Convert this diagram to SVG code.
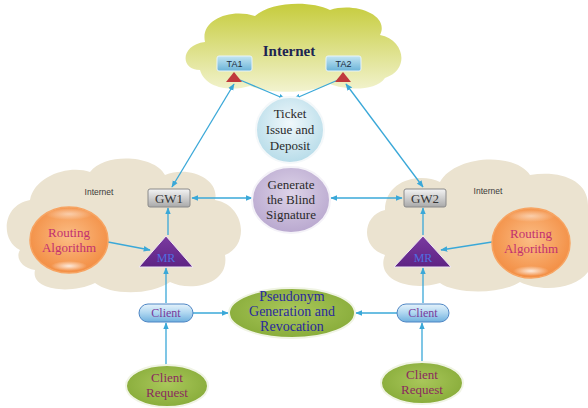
<svg xmlns="http://www.w3.org/2000/svg" width="588" height="408" viewBox="0 0 588 408">
<defs>
<style>
.serif{font-family:"Liberation Serif","Times New Roman",serif;}
.sans{font-family:"Liberation Sans",Arial,sans-serif;}
.conn line{stroke:#3aa8d8;stroke-width:1.3;fill:none;}
.beige{fill:#ebe3d0;}
</style>
<linearGradient id="gTop" x1="0" y1="0" x2="0" y2="1" gradientUnits="objectBoundingBox">
<stop offset="0" stop-color="#c6cc3c"/><stop offset="1" stop-color="#f2f3cf"/>
</linearGradient>
<radialGradient id="gTicket" cx="0.5" cy="0.4" r="0.6"><stop offset="0" stop-color="#f0f8fb"/><stop offset="1" stop-color="#b7dce9"/></radialGradient>
<radialGradient id="gGen" cx="0.5" cy="0.4" r="0.6"><stop offset="0" stop-color="#ddd3e8"/><stop offset="1" stop-color="#b9a8cf"/></radialGradient>
<radialGradient id="gOrange" cx="0.5" cy="0.45" r="0.6"><stop offset="0" stop-color="#fbbd85"/><stop offset="1" stop-color="#f28a3e"/></radialGradient>
<radialGradient id="gGreen" cx="0.5" cy="0.45" r="0.6"><stop offset="0" stop-color="#a9c75a"/><stop offset="1" stop-color="#86aa38"/></radialGradient>
<radialGradient id="gGloss" cx="0.5" cy="0.5" r="0.5"><stop offset="0" stop-color="#ffffff" stop-opacity="0.8"/><stop offset="1" stop-color="#ffffff" stop-opacity="0"/></radialGradient>
<linearGradient id="gClient" x1="0" y1="0" x2="0" y2="1"><stop offset="0" stop-color="#e6f3fb"/><stop offset="0.5" stop-color="#aed6f0"/><stop offset="1" stop-color="#6fb0de"/></linearGradient>
<linearGradient id="gGW" x1="0" y1="0" x2="0" y2="1"><stop offset="0" stop-color="#f4f4f4"/><stop offset="1" stop-color="#a9a9a9"/></linearGradient>
<linearGradient id="gTA" x1="0" y1="0" x2="0" y2="1"><stop offset="0" stop-color="#c4e6f3"/><stop offset="1" stop-color="#6bb3d8"/></linearGradient>
<linearGradient id="gMR" x1="0" y1="0" x2="0" y2="1"><stop offset="0" stop-color="#7a3aa0"/><stop offset="1" stop-color="#5e2384"/></linearGradient>
<marker id="ah" viewBox="0 0 10 10" refX="9" refY="5" markerWidth="7" markerHeight="7" orient="auto-start-reverse" markerUnits="userSpaceOnUse">
<path d="M0,1 L10,5 L0,9 z" fill="#3aa8d8"/>
</marker>
</defs>
<rect width="588" height="408" fill="#ffffff"/>

<g id="cloud-top" fill="url(#gTop)">
<path d="M200,70 C180,70 180,45 205,42 C200,20 230,8 255,16 C270,2 310,0 330,10 C355,2 390,15 380,35 C405,40 410,70 385,78 C375,92 345,90 330,84 C310,94 270,94 250,86 C230,92 205,88 200,70 z"/>
</g>
<g id="cloud-left" class="beige">
<path d="M20,250 C0,240 2,205 30,200 C35,175 70,165 90,172 C105,152 155,155 165,175 C190,165 220,180 215,200 C245,205 250,245 225,255 C230,285 190,292 170,282 C150,296 110,295 95,283 C70,295 30,290 35,270 C22,268 15,258 20,250 z"/>
</g>
<g id="cloud-right" class="beige">
<path d="M385,255 C360,248 362,215 385,210 C385,180 420,172 440,182 C455,155 515,152 530,175 C560,170 588,180 588,205 L588,272 C575,290 540,292 520,282 C500,295 455,294 440,283 C410,292 375,280 385,255 z"/>
</g>

<g class="conn">
<line x1="172" y1="187" x2="234" y2="84" marker-start="url(#ah)" marker-end="url(#ah)"/>
<line x1="346" y1="84" x2="423" y2="187" marker-start="url(#ah)" marker-end="url(#ah)"/>
<line x1="240" y1="80" x2="285" y2="99" marker-end="url(#ah)"/>
<line x1="338" y1="80" x2="294" y2="99" marker-end="url(#ah)"/>
<line x1="192" y1="198" x2="252" y2="198" marker-start="url(#ah)" marker-end="url(#ah)"/>
<line x1="331" y1="198" x2="402" y2="198" marker-start="url(#ah)" marker-end="url(#ah)"/>
<line x1="168" y1="235" x2="168" y2="208" marker-end="url(#ah)"/>
<line x1="423" y1="235" x2="423" y2="208" marker-end="url(#ah)"/>
<line x1="108" y1="242" x2="150" y2="250" marker-end="url(#ah)"/>
<line x1="492" y1="242" x2="441" y2="250" marker-end="url(#ah)"/>
<line x1="166" y1="303" x2="166" y2="268" marker-end="url(#ah)"/>
<line x1="423" y1="303" x2="423" y2="268" marker-end="url(#ah)"/>
<line x1="193" y1="313" x2="228" y2="313" marker-end="url(#ah)"/>
<line x1="397" y1="313" x2="356" y2="313" marker-end="url(#ah)"/>
<line x1="166" y1="365" x2="166" y2="323" marker-end="url(#ah)"/>
<line x1="422" y1="362" x2="422" y2="323" marker-end="url(#ah)"/>
</g>

<text class="serif" x="289" y="56" font-size="15" font-weight="bold" fill="#1c2452" text-anchor="middle">Internet</text>

<g id="ta1">
<rect x="217" y="56" width="35" height="15" rx="2" fill="url(#gTA)" stroke="#e8f4fa" stroke-width="1"/>
<text class="sans" x="234.5" y="67" font-size="9" fill="#1a2a40" text-anchor="middle">TA1</text>
<path d="M234,72 L242,82 L226,82 z" fill="#c0393c"/>
</g>
<g id="ta2">
<rect x="326" y="56" width="35" height="15" rx="2" fill="url(#gTA)" stroke="#e8f4fa" stroke-width="1"/>
<text class="sans" x="343.5" y="67" font-size="9" fill="#1a2a40" text-anchor="middle">TA2</text>
<path d="M343,72 L351,82 L335,82 z" fill="#c0393c"/>
</g>

<g id="ticket">
<ellipse cx="290" cy="130" rx="34" ry="33" fill="url(#gTicket)" stroke="#f4f8fa" stroke-width="2"/>
<text class="serif" font-size="13" fill="#2a2a2a" text-anchor="middle"><tspan x="290" y="118">Ticket</tspan><tspan x="290" y="134">Issue and</tspan><tspan x="290" y="150">Deposit</tspan></text>
</g>

<g id="generate">
<ellipse cx="291" cy="200" rx="39" ry="33" fill="url(#gGen)" stroke="#f4f2f8" stroke-width="2"/>
<text class="serif" font-size="13" fill="#2a2a2a" text-anchor="middle"><tspan x="291" y="189">Generate</tspan><tspan x="291" y="204">the Blind</tspan><tspan x="291" y="219">Signature</tspan></text>
</g>

<text class="sans" x="99" y="195" font-size="8.5" fill="#3a3a3a" text-anchor="middle">Internet</text>
<text class="sans" x="488" y="194" font-size="8.5" fill="#3a3a3a" text-anchor="middle">Internet</text>

<g id="gw1">
<rect x="148" y="189" width="42" height="18" rx="2" fill="url(#gGW)" stroke="#8a8a8a" stroke-width="1"/>
<text class="serif" x="169" y="203" font-size="13" fill="#333" text-anchor="middle">GW1</text>
</g>
<g id="gw2">
<rect x="404" y="189" width="42" height="18" rx="2" fill="url(#gGW)" stroke="#8a8a8a" stroke-width="1"/>
<text class="serif" x="425" y="203" font-size="13" fill="#333" text-anchor="middle">GW2</text>
</g>

<g id="routing1">
<ellipse cx="69" cy="240" rx="39" ry="33" fill="url(#gOrange)" stroke="#f7a462" stroke-width="1.5"/>
<ellipse cx="69" cy="266" rx="18" ry="5" fill="url(#gGloss)"/>
<ellipse cx="69" cy="214" rx="24" ry="6" fill="url(#gGloss)" opacity="0.6"/>
<text class="serif" font-size="13" fill="#c23070" text-anchor="middle"><tspan x="69" y="237">Routing</tspan><tspan x="69" y="252">Algorithm</tspan></text>
</g>
<g id="routing2">
<ellipse cx="531" cy="243" rx="39" ry="35" fill="url(#gOrange)" stroke="#f7a462" stroke-width="1.5"/>
<ellipse cx="531" cy="271" rx="18" ry="5" fill="url(#gGloss)"/>
<ellipse cx="531" cy="216" rx="24" ry="6" fill="url(#gGloss)" opacity="0.6"/>
<text class="serif" font-size="13" fill="#c23070" text-anchor="middle"><tspan x="531" y="238">Routing</tspan><tspan x="531" y="253">Algorithm</tspan></text>
</g>

<g id="mr1">
<path d="M166,236 L193,267 L139,267 z" fill="url(#gMR)" stroke="#f0e8f4" stroke-width="1"/>
<text class="serif" x="166" y="262" font-size="12" fill="#4f6ee0" text-anchor="middle">MR</text>
</g>
<g id="mr2">
<path d="M423,236 L451,267 L394,267 z" fill="url(#gMR)" stroke="#f0e8f4" stroke-width="1"/>
<text class="serif" x="423" y="262" font-size="12" fill="#4f6ee0" text-anchor="middle">MR</text>
</g>

<g id="client1">
<rect x="139" y="304" width="54" height="18" rx="9" fill="url(#gClient)" stroke="#4f86c4" stroke-width="1"/>
<text class="serif" x="166" y="317" font-size="12" fill="#7a3a9a" text-anchor="middle">Client</text>
</g>
<g id="client2">
<rect x="397" y="304" width="52" height="18" rx="9" fill="url(#gClient)" stroke="#4f86c4" stroke-width="1"/>
<text class="serif" x="423" y="317" font-size="12" fill="#7a3a9a" text-anchor="middle">Client</text>
</g>

<g id="pseudonym">
<ellipse cx="292" cy="313" rx="63" ry="25" fill="url(#gGreen)" stroke="#f0f4e4" stroke-width="2"/>
<text class="serif" font-size="14" fill="#2a2a9e" text-anchor="middle"><tspan x="292" y="301">Pseudonym</tspan><tspan x="292" y="316">Generation and</tspan><tspan x="292" y="331">Revocation</tspan></text>
</g>

<g id="request1">
<ellipse cx="167" cy="386" rx="41" ry="21" fill="url(#gGreen)" stroke="#f0f4e4" stroke-width="2"/>
<text class="serif" font-size="13" fill="#8a2a5e" text-anchor="middle"><tspan x="167" y="382">Client</tspan><tspan x="167" y="397">Request</tspan></text>
</g>
<g id="request2">
<ellipse cx="422" cy="383" rx="41" ry="21" fill="url(#gGreen)" stroke="#f0f4e4" stroke-width="2"/>
<text class="serif" font-size="13" fill="#8a2a5e" text-anchor="middle"><tspan x="422" y="379">Client</tspan><tspan x="422" y="394">Request</tspan></text>
</g>
</svg>
